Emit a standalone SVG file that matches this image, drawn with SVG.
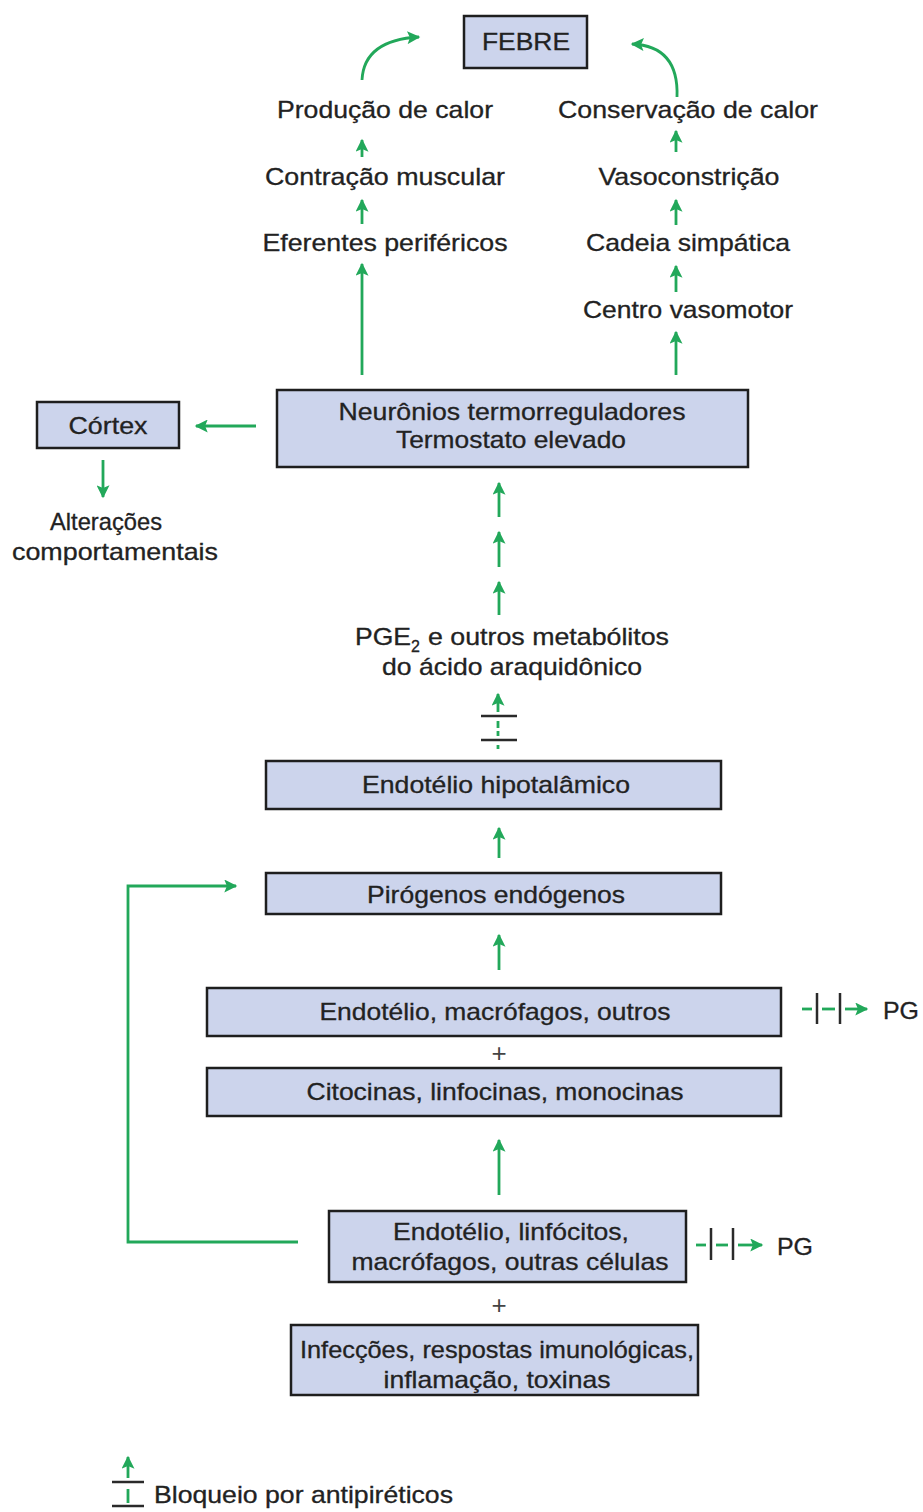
<svg xmlns="http://www.w3.org/2000/svg" width="923" height="1512" viewBox="0 0 923 1512">
<defs>
<marker id="ah" viewBox="0 0 10 10" refX="9" refY="5" markerWidth="14" markerHeight="13" markerUnits="userSpaceOnUse" orient="auto">
<path d="M0,0 L10,5 L0,10 L2,5 z" fill="#22a85a"/>
</marker>
<style>
.box{fill:#ccd4ec;stroke:#1e1e1e;stroke-width:2.5}
.t{font-family:"Liberation Sans",Arial,sans-serif;font-size:24px;fill:#222;stroke:#222;stroke-width:0.3;text-anchor:middle}
.tl{font-family:"Liberation Sans",Arial,sans-serif;font-size:24px;fill:#222;stroke:#222;stroke-width:0.3}
.g{stroke:#22a85a;stroke-width:2.8;fill:none}
.ga{stroke:#22a85a;stroke-width:2.8;fill:none;marker-end:url(#ah)}
.bar{stroke:#2a2a2a;stroke-width:2.5}
.plus{font-family:"Liberation Sans",Arial,sans-serif;font-size:26px;fill:#444;text-anchor:middle}
</style>
</defs>
<rect width="923" height="1512" fill="#ffffff"/>

<g id="connectors">
<path class="ga" d="M362,80 Q364,40 419,37"/>
<path class="ga" d="M677,97 Q679,46 632,44"/>
<line class="ga" x1="362" y1="157" x2="362" y2="140"/>
<line class="ga" x1="362" y1="224" x2="362" y2="200"/>
<line class="ga" x1="362" y1="375" x2="362" y2="264"/>
<line class="ga" x1="676" y1="152" x2="676" y2="131"/>
<line class="ga" x1="676" y1="225" x2="676" y2="200"/>
<line class="ga" x1="676" y1="292" x2="676" y2="266"/>
<line class="ga" x1="676" y1="375" x2="676" y2="332"/>
<line class="ga" x1="256" y1="426" x2="196" y2="426"/>
<line class="ga" x1="103" y1="460" x2="103" y2="497"/>
<line class="ga" x1="499" y1="517" x2="499" y2="483"/>
<line class="ga" x1="499" y1="567" x2="499" y2="532"/>
<line class="ga" x1="499" y1="615" x2="499" y2="582"/>
<line class="ga" x1="499" y1="858" x2="499" y2="828"/>
<line class="ga" x1="499" y1="970" x2="499" y2="935"/>
<line class="ga" x1="499" y1="1195" x2="499" y2="1140"/>
<polyline class="ga" points="298,1242 128,1242 128,886 236,886"/>
</g>

<g id="block-pge2">
<line class="ga" x1="498" y1="712" x2="498" y2="694"/>
<line class="g" x1="498" y1="721" x2="498" y2="728"/>
<line class="g" x1="498" y1="731" x2="498" y2="736"/>
<line class="g" x1="498" y1="745" x2="498" y2="749"/>
<line class="bar" x1="481" y1="716" x2="517" y2="716"/>
<line class="bar" x1="481" y1="740" x2="517" y2="740"/>
</g>

<g id="pg1">
<line class="g" x1="802" y1="1009" x2="812" y2="1009"/>
<line class="g" x1="822" y1="1009" x2="835" y2="1009"/>
<line class="ga" x1="845" y1="1009" x2="867" y2="1009"/>
<line class="bar" x1="817" y1="993" x2="817" y2="1024"/>
<line class="bar" x1="840" y1="993" x2="840" y2="1024"/>
<text class="tl" x="883" y="1019" textLength="36" lengthAdjust="spacingAndGlyphs">PG</text>
</g>

<g id="pg2">
<line class="g" x1="696" y1="1245" x2="706" y2="1245"/>
<line class="g" x1="716" y1="1245" x2="728" y2="1245"/>
<line class="ga" x1="738" y1="1245" x2="762" y2="1245"/>
<line class="bar" x1="711" y1="1228" x2="711" y2="1260"/>
<line class="bar" x1="733" y1="1228" x2="733" y2="1260"/>
<text class="tl" x="777" y="1255" textLength="36" lengthAdjust="spacingAndGlyphs">PG</text>
</g>

<g id="febre">
<rect class="box" x="464" y="16" width="123" height="52"/>
<text class="t" x="526" y="50" textLength="88" lengthAdjust="spacingAndGlyphs">FEBRE</text>
</g>

<g id="producao"><text class="t" x="385" y="118" textLength="216" lengthAdjust="spacingAndGlyphs">Produção de calor</text></g>
<g id="contracao"><text class="t" x="385" y="185" textLength="240" lengthAdjust="spacingAndGlyphs">Contração muscular</text></g>
<g id="eferentes"><text class="t" x="385" y="251" textLength="245" lengthAdjust="spacingAndGlyphs">Eferentes periféricos</text></g>
<g id="conservacao"><text class="t" x="688" y="118" textLength="260" lengthAdjust="spacingAndGlyphs">Conservação de calor</text></g>
<g id="vasoconstricao"><text class="t" x="689" y="185" textLength="181" lengthAdjust="spacingAndGlyphs">Vasoconstrição</text></g>
<g id="cadeia"><text class="t" x="688" y="251" textLength="204" lengthAdjust="spacingAndGlyphs">Cadeia simpática</text></g>
<g id="centro"><text class="t" x="688" y="318" textLength="210" lengthAdjust="spacingAndGlyphs">Centro vasomotor</text></g>

<g id="neuronios">
<rect class="box" x="277" y="390" width="471" height="77"/>
<text class="t" x="512" y="420" textLength="347" lengthAdjust="spacingAndGlyphs">Neurônios termorreguladores</text>
<text class="t" x="511" y="448" textLength="230" lengthAdjust="spacingAndGlyphs">Termostato elevado</text>
</g>

<g id="cortex">
<rect class="box" x="37" y="402" width="142" height="46"/>
<text class="t" x="108" y="434" textLength="79" lengthAdjust="spacingAndGlyphs">Córtex</text>
</g>

<g id="alteracoes">
<text class="t" x="106" y="530" textLength="112" lengthAdjust="spacingAndGlyphs">Alterações</text>
<text class="t" x="115" y="560" textLength="206" lengthAdjust="spacingAndGlyphs">comportamentais</text>
</g>

<g id="pge2">
<text class="tl" x="355" y="645" textLength="56" lengthAdjust="spacingAndGlyphs">PGE</text>
<text class="tl" x="411" y="652" style="font-size:16px">2</text>
<text class="tl" x="428" y="645" textLength="241" lengthAdjust="spacingAndGlyphs">e outros metabólitos</text>
<text class="t" x="512" y="675" textLength="260" lengthAdjust="spacingAndGlyphs">do ácido araquidônico</text>
</g>

<g id="endotelio-hipotalamico">
<rect class="box" x="266" y="761" width="455" height="48"/>
<text class="t" x="496" y="793" textLength="268" lengthAdjust="spacingAndGlyphs">Endotélio hipotalâmico</text>
</g>

<g id="pirogenos">
<rect class="box" x="266" y="873" width="455" height="41"/>
<text class="t" x="496" y="903" textLength="258" lengthAdjust="spacingAndGlyphs">Pirógenos endógenos</text>
</g>

<g id="endotelio-macrofagos">
<rect class="box" x="207" y="988" width="574" height="48"/>
<text class="t" x="495" y="1020" textLength="351" lengthAdjust="spacingAndGlyphs">Endotélio, macrófagos, outros</text>
</g>

<text class="plus" x="499" y="1062">+</text>

<g id="citocinas">
<rect class="box" x="207" y="1068" width="574" height="48"/>
<text class="t" x="495" y="1100" textLength="377" lengthAdjust="spacingAndGlyphs">Citocinas, linfocinas, monocinas</text>
</g>

<g id="endotelio-linfocitos">
<rect class="box" x="329" y="1211" width="357" height="71"/>
<text class="t" x="511" y="1240" textLength="236" lengthAdjust="spacingAndGlyphs">Endotélio, linfócitos,</text>
<text class="t" x="510" y="1270" textLength="317" lengthAdjust="spacingAndGlyphs">macrófagos, outras células</text>
</g>

<text class="plus" x="499" y="1314">+</text>

<g id="infeccoes">
<rect class="box" x="291" y="1325" width="407" height="70"/>
<text class="t" x="497" y="1358" textLength="394" lengthAdjust="spacingAndGlyphs">Infecções, respostas imunológicas,</text>
<text class="t" x="497" y="1388" textLength="227" lengthAdjust="spacingAndGlyphs">inflamação, toxinas</text>
</g>

<g id="legend">
<line class="ga" x1="128" y1="1478" x2="128" y2="1457"/>
<line class="g" x1="128" y1="1489" x2="128" y2="1503"/>
<line class="bar" x1="112" y1="1482" x2="144" y2="1482"/>
<line class="bar" x1="112" y1="1506" x2="144" y2="1506"/>
<text class="tl" x="154" y="1503" textLength="299" lengthAdjust="spacingAndGlyphs">Bloqueio por antipiréticos</text>
</g>
</svg>
